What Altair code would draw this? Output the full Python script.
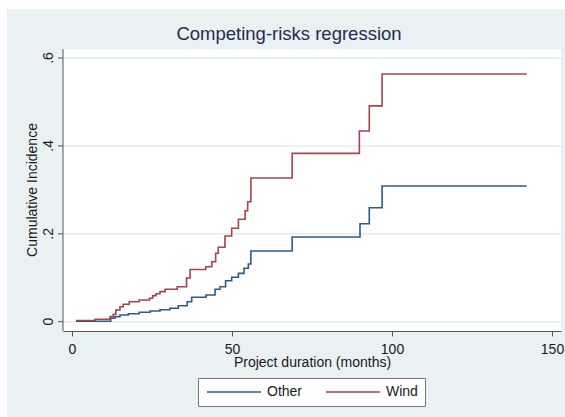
import altair as alt
import pandas as pd

# ---- data ----
other_t = [1.25, 12.1, 13.4, 15.0, 17.6, 21.0, 24.4, 27.5, 30.6, 33.2, 36.0, 37.4, 41.9,
           44.7, 46.25, 48.0, 49.9, 52.0, 53.75, 55.1, 55.9, 68.8, 90.0, 92.9, 96.9, 142.1]
other_ci = [0.001, 0.0077, 0.0114, 0.0152, 0.0182, 0.0214, 0.0243, 0.0273, 0.0305, 0.0364,
            0.0455, 0.0555, 0.0608, 0.0737, 0.0796, 0.0933, 0.101, 0.110, 0.1215, 0.1313,
            0.1609, 0.1927, 0.223, 0.2594, 0.3088, 0.3088]

wind_t = [1.25, 7.2, 11.9, 12.9, 13.7, 15.0, 16.0, 17.9, 21.0, 24.2, 25.2, 26.25, 27.5,
          29.1, 32.9, 35.8, 36.9, 41.8, 43.7, 44.9, 45.7, 47.8, 49.9, 52.0, 54.1, 54.9,
          55.9, 68.8, 89.8, 92.9, 96.9, 142.1]
wind_ci = [0.0027, 0.0055, 0.0114, 0.0168, 0.0266, 0.0341, 0.0396, 0.0455, 0.0494, 0.0532,
           0.0592, 0.0637, 0.0683, 0.0737, 0.0796, 0.0994, 0.1188, 0.1251, 0.1365, 0.1556,
           0.1693, 0.195, 0.2125, 0.233, 0.2526, 0.273, 0.327, 0.383, 0.434, 0.491,
           0.5636, 0.5636]

series_names = ["Other", "Wind"]
x_ticks = [0, 50, 100, 150]
y_ticks = [0, 0.2, 0.4, 0.6]
y_tick_labels = ["0", ".2", ".4", ".6"]

title_text = "Competing-risks regression"
x_title = "Project duration (months)"
y_title = "Cumulative Incidence"

# ---- styling ----
FONT = "Liberation Sans"
BG = "#E9F1F3"
GRID = "#E3ECEF"
COLORS = ["#2B5C88", "#A8434B"]
AXIS_COL = "#555555"
TEXT_COL = "#1a1a1a"

rows = []
for t, v in zip(other_t, other_ci):
    rows.append({"t": t, "ci": v, "series": series_names[0]})
for t, v in zip(wind_t, wind_ci):
    rows.append({"t": t, "ci": v, "series": series_names[1]})
df = pd.DataFrame(rows)

xscale = alt.Scale(domain=[-2.8125, 152.8125], nice=False, zero=False)
yscale = alt.Scale(domain=[-0.0212, 0.6205], nice=False, zero=False)

one = pd.DataFrame({"a": [0]})
ytick_df = pd.DataFrame({"v": y_ticks, "lab": y_tick_labels})

# white outer margin strips (top and left) like the reference export
strip_top = alt.Chart(one).mark_rect(fill="white").encode(
    x=alt.value(-63), x2=alt.value(502), y=alt.value(-49), y2=alt.value(-40)
)
strip_left = alt.Chart(one).mark_rect(fill="white").encode(
    x=alt.value(-63), x2=alt.value(-56), y=alt.value(-49), y2=alt.value(368)
)

grid = alt.Chart(ytick_df).mark_rule(color=GRID, strokeWidth=1.5).encode(
    y=alt.Y("v:Q", scale=yscale, axis=None)
)

# y axis: domain line, ticks, rotated labels and title
y_domain = alt.Chart(one).mark_rule(color=AXIS_COL, strokeWidth=1).encode(
    x=alt.value(0), y=alt.value(0), y2=alt.value(282)
)
y_tickmarks = alt.Chart(ytick_df).mark_rule(color=AXIS_COL, strokeWidth=1).encode(
    y=alt.Y("v:Q", scale=yscale, axis=None), x=alt.value(-5), x2=alt.value(0)
)
y_labels = alt.Chart(ytick_df).mark_text(
    angle=270, font=FONT, fontSize=14, color=TEXT_COL,
    align="center", baseline="alphabetic",
).encode(x=alt.value(-10), y=alt.Y("v:Q", scale=yscale, axis=None), text="lab:N")
y_title_mark = alt.Chart(pd.DataFrame({"t": [y_title]})).mark_text(
    angle=270, font=FONT, fontSize=14, color=TEXT_COL,
    align="center", baseline="alphabetic",
).encode(x=alt.value(-26), y=alt.value(141), text="t:N")

lines = alt.Chart(df).mark_line(interpolate="step-after", strokeWidth=1.6).encode(
    x=alt.X(
        "t:Q", scale=xscale,
        axis=alt.Axis(
            values=x_ticks, title=x_title, grid=False,
            domainColor=AXIS_COL, tickColor=AXIS_COL, tickSize=5,
            labelFont=FONT, labelFontSize=14, labelColor=TEXT_COL,
            labelBaseline="alphabetic", labelPadding=17, labelAlign="center",
            titleFont=FONT, titleFontSize=14, titleFontWeight="normal", titleColor=TEXT_COL,
            titleBaseline="alphabetic", titleY=35.5, titleX=249, titleAlign="center",
            labelFlush=False, labelOverlap=False,
        ),
    ),
    y=alt.Y("ci:Q", scale=yscale, axis=None),
    color=alt.Color(
        "series:N",
        scale=alt.Scale(domain=series_names, range=COLORS),
        legend=alt.Legend(
            title=None, orient="none", legendX=135, legendY=329,
            direction="horizontal", symbolType="M-1,0H9.8", symbolSize=100,
            symbolStrokeWidth=1.6, labelFont=FONT, labelFontSize=14,
            labelColor=TEXT_COL, labelOffset=48, columnPadding=19,
            padding=7, fillColor="white", strokeColor="#777777",
        ),
    ),
)

chart = alt.layer(
    strip_top, strip_left, grid, y_domain, y_tickmarks, lines, y_labels, y_title_mark
).properties(
    width=498,
    height=282,
    padding={"left": 63, "top": 49, "right": 4, "bottom": 86},
    autosize=alt.AutoSizeParams(type="none"),
    background=BG,
    title=alt.TitleParams(
        text=title_text, font=FONT, fontSize=18.5, fontWeight="normal",
        color="#1F2D4D", anchor="middle", dx=-23, offset=-58, baseline="alphabetic",
    ),
).configure_view(stroke=None, fill="white")

chart.save("out.html", embed_options={"renderer": "svg", "actions": False})
